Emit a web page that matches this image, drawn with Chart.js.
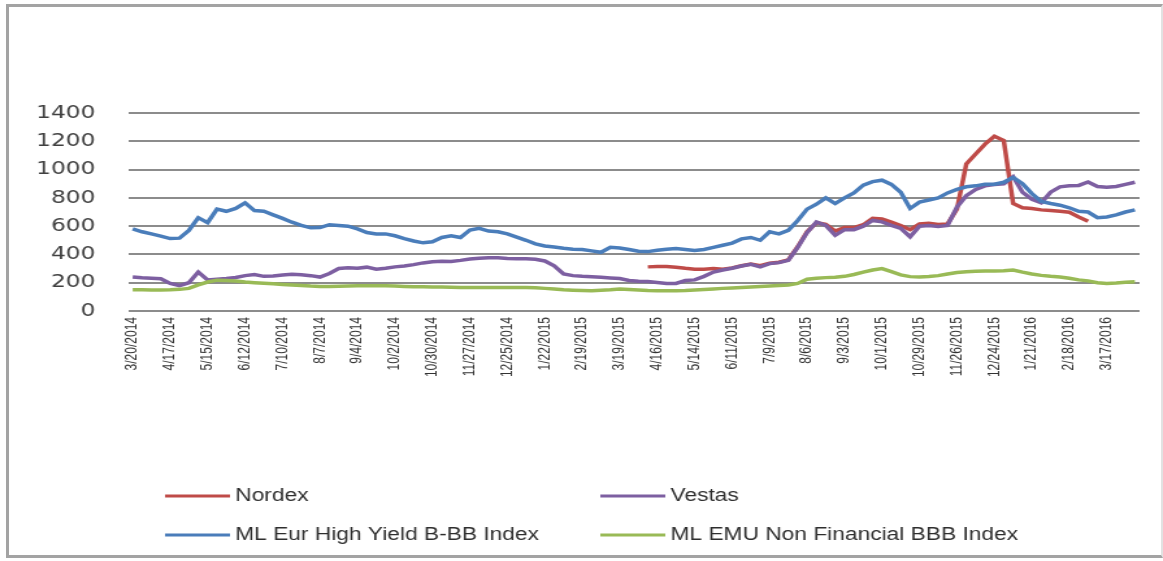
<!DOCTYPE html>
<html>
<head>
<meta charset="utf-8">
<script src="https://cdn.jsdelivr.net/npm/chart.js@4/dist/chart.umd.min.js"></script>
<style>
  html, body { margin: 0; padding: 0; background: #fff; }
  body { width: 1163px; height: 561px; position: relative; overflow: hidden; }
  #frame {
    position: absolute; left: 6px; top: 4px; width: 1152px; height: 548px;
    border: 3px solid #a3a3a3; border-right: 2px solid #e2e2e2;
  }
  /* the reference is stretched sideways, so draw narrow and scale it out */
  #wrap {
    position: absolute; left: 0; top: 0; width: 895px; height: 561px;
    transform: scaleX(1.2994); transform-origin: 0 0;
  }
</style>
</head>
<body>
<div id="frame"></div>
<div id="wrap"><canvas id="spreadChart"></canvas></div>
<script>
// weekly observations, Thursday 3/20/2014 onwards (108 weeks)
const startDate = new Date(2014, 2, 20);
const weekCount = 108;

const tickLabels = [
    '3/20/2014', '4/17/2014', '5/15/2014', '6/12/2014', '7/10/2014', '8/7/2014',
    '9/4/2014', '10/2/2014', '10/30/2014', '11/27/2014', '12/25/2014', '1/22/2015',
    '2/19/2015', '3/19/2015', '4/16/2015', '5/14/2015', '6/11/2015', '7/9/2015',
    '8/6/2015', '9/3/2015', '10/1/2015', '10/29/2015', '11/26/2015', '12/24/2015',
    '1/21/2016', '2/18/2016', '3/17/2016'
];

const seriesNames = ['Nordex', 'Vestas', 'ML Eur High Yield B-BB Index', 'ML EMU Non Financial BBB Index'];

const nordex = [
    null, null, null, null, null, null, null, null, null, null, null, null,
    null, null, null, null, null, null, null, null, null, null, null, null,
    null, null, null, null, null, null, null, null, null, null, null, null,
    null, null, null, null, null, null, null, null, null, null, null, null,
    null, null, null, null, null, null, null, 312, 315, 315, 310, 302,
    296, 296, 300, 295, 305, 320, 332, 320, 338, 345, 362, 455,
    560, 625, 612, 565, 590, 590, 610, 655, 650, 628, 605, 575,
    615, 620, 612, 616, 720, 1040, 1110, 1180, 1235, 1205, 760, 730,
    725, 715, 710, 705, 698, 665, 635, null, null, null, null, null
];

const vestas = [
    240, 235, 232, 228, 195, 180, 200, 275, 220, 225, 230, 237,
    250, 258, 245, 248, 255, 260, 256, 250, 240, 265, 300, 305,
    302, 310, 295, 302, 312, 318, 328, 340, 348, 352, 350, 358,
    368, 373, 377, 377, 372, 370, 370, 366, 354, 320, 262, 250,
    245, 242, 238, 234, 230, 216, 210, 208, 202, 195, 195, 215,
    220, 245, 275, 290, 302, 318, 330, 312, 335, 342, 358, 450,
    555, 630, 605, 535, 575, 575, 600, 640, 630, 605, 585, 525,
    600, 605, 598, 605, 735, 815, 860, 885, 895, 900, 950, 840,
    790, 765, 840, 878, 885, 888, 912, 880, 875, 880, 895, 910
];

const hyIndex = [
    580, 560, 545, 530, 512, 515, 570, 660, 625, 720, 705, 725,
    765, 710, 705, 680, 655, 628, 605, 588, 590, 610, 605, 600,
    580, 555, 545, 545, 532, 512, 495, 482, 490, 520, 532, 520,
    572, 585, 565, 560, 545, 522, 500, 475, 460, 452, 443, 437,
    435, 425, 415, 450, 445, 435, 422, 420, 430, 437, 442, 435,
    428, 435, 450, 465, 480, 510, 520, 500, 560, 545, 570, 640,
    720, 755, 800, 760, 800, 835, 890, 915, 925, 895, 840, 725,
    770, 785, 800, 835, 860, 878, 885, 897, 897, 910, 945, 900,
    830, 775, 760, 748, 730, 705, 700, 660, 665, 680, 700, 715
];

const emuIndex = [
    150, 150, 149, 149, 150, 153, 160, 185, 205, 218, 216, 212,
    205, 200, 196, 192, 188, 184, 180, 176, 174, 174, 175, 177,
    178, 179, 179, 178, 176, 174, 172, 171, 170, 169, 168, 167,
    167, 167, 167, 167, 167, 167, 166, 164, 160, 155, 150, 147,
    145, 144, 147, 150, 155, 152, 148, 145, 144, 144, 144, 145,
    148, 152, 156, 160, 163, 167, 170, 173, 177, 180, 184, 195,
    225, 232, 236, 238, 245, 258, 275, 290, 300, 278, 255, 243,
    241, 244, 250, 262, 272, 278, 281, 282, 283, 284, 290, 275,
    262, 252, 245, 240, 231, 220, 213, 200, 195, 198, 203, 207
];

const colors = ['#BF4B48', '#7D5FA1', '#4A7DBA', '#99BA56'];

// category labels, one per week
const weeks = [];
for (let i = 0; i < weekCount; i++) {
    const d = new Date(startDate.getTime());
    d.setDate(d.getDate() + i * 7);
    weeks.push((d.getMonth() + 1) + '/' + d.getDate() + '/' + d.getFullYear());
}

// two-column legend under the axis, like the original
const gridLegend = {
    id: 'gridLegend',
    afterDraw(chart) {
        const ctx = chart.ctx;
        const spots = [[127, 496], [462, 496], [127, 535], [462, 535]];
        ctx.save();
        ctx.font = '17.5px "Liberation Sans", Arial, sans-serif';
        ctx.textBaseline = 'middle';
        chart.data.datasets.forEach(function(ds, i) {
            const x = spots[i][0], y = spots[i][1];
            ctx.strokeStyle = ds.borderColor;
            ctx.lineWidth = 3;
            ctx.beginPath();
            ctx.moveTo(x, y);
            ctx.lineTo(x + 50, y);
            ctx.stroke();
            ctx.fillStyle = '#2e2e2e';
            ctx.fillText(ds.label, x + 54, y);
        });
        ctx.restore();
    }
};

const ctx = document.getElementById('spreadChart').getContext('2d');
const allSeries = [nordex, vestas, hyIndex, emuIndex];

new Chart(ctx, {
    type: 'line',
    data: {
        labels: weeks,
        datasets: allSeries.map(function(values, i) {
            return {
                label: seriesNames[i],
                data: values,
                borderColor: colors[i],
                backgroundColor: colors[i],
                borderWidth: 3.5,
                pointRadius: 0,
                tension: 0,
                spanGaps: false,
                order: 4 - i
            };
        })
    },
    options: {
        responsive: true,
        maintainAspectRatio: false,
        animation: false,
        layout: { padding: { left: 0, right: 18, top: 113, bottom: 150 } },
        plugins: {
            legend: { display: false },
            title: { display: false },
            tooltip: { enabled: false }
        },
        scales: {
            x: {
                offset: true,
                grid: { display: false, drawTicks: false },
                border: { display: false },
                afterFit: function(scale) { scale.height = 100; },
                ticks: {
                    autoSkip: false,
                    maxRotation: 90,
                    minRotation: 90,
                    padding: 6,
                    color: '#333333',
                    font: { family: '"Liberation Sans", Arial, sans-serif', size: 12 },
                    callback: function(value, index) {
                        return index % 4 === 0 ? tickLabels[index / 4] : null;
                    }
                }
            },
            y: {
                min: 0,
                max: 1400,
                grid: { color: '#8c8c8c', lineWidth: 2, drawTicks: false },
                border: { display: false },
                afterFit: function(scale) { scale.width = 98.5; },
                ticks: {
                    stepSize: 200,
                    padding: 25,
                    color: '#404040',
                    font: { family: '"DejaVu Sans", Verdana, sans-serif', size: 18 },
                    callback: function(value) { return String(value); }
                }
            }
        }
    },
    plugins: [gridLegend]
});
</script>
</body>
</html>
